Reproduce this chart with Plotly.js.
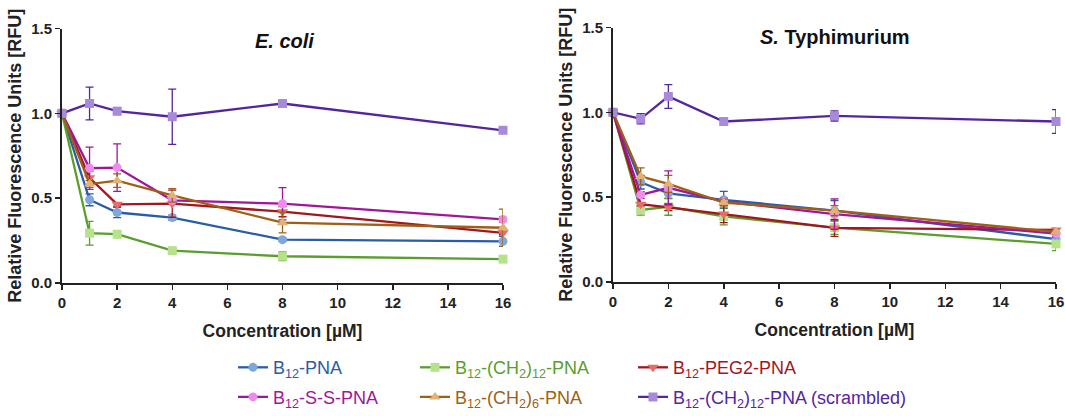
<!DOCTYPE html>
<html>
<head>
<meta charset="utf-8">
<script src="https://cdn.plot.ly/plotly-3.0.1.min.js"></script>
<style>html,body{margin:0;padding:0;background:#fff;}#chart{width:1065px;height:416px;}</style>
</head>
<body>
<div id="chart"></div>
<script>
// ---- Data ----
const concentration = [0, 1, 2, 4, 8, 16];

const seriesNames = [
  'B<sub>12</sub>-PNA',
  'B<sub>12</sub>-(CH<sub>2</sub>)<sub>12</sub>-PNA',
  'B<sub>12</sub>-PEG2-PNA',
  'B<sub>12</sub>-S-S-PNA',
  'B<sub>12</sub>-(CH<sub>2</sub>)<sub>6</sub>-PNA',
  'B<sub>12</sub>-(CH<sub>2</sub>)<sub>12</sub>-PNA (scrambled)'
];

// E. coli
const ecoliPNA        = [1.0, 0.490, 0.415, 0.385, 0.255, 0.245];
const ecoliPNAErr     = [0, 0.035, 0.030, 0.015, 0.010, 0.030];
const ecoliCH12       = [1.0, 0.293, 0.287, 0.190, 0.157, 0.140];
const ecoliCH12Err    = [0, 0.070, 0.020, 0.010, 0.025, 0.015];
const ecoliPEG2       = [1.0, 0.620, 0.463, 0.467, 0.420, 0.295];
const ecoliPEG2Err    = [0, 0.040, 0.010, 0.080, 0.030, 0.010];
const ecoliSS         = [1.0, 0.676, 0.680, 0.487, 0.467, 0.374];
const ecoliSSErr      = [0, 0.125, 0.140, 0.010, 0.095, 0.015];
const ecoliCH6        = [1.0, 0.583, 0.603, 0.516, 0.355, 0.325];
const ecoliCH6Err     = [0, 0.020, 0.040, 0.040, 0.060, 0.110];
const ecoliScr        = [1.0, 1.058, 1.013, 0.980, 1.058, 0.900];
const ecoliScrErr     = [0, 0.097, 0.020, 0.163, 0.020, 0.005];

// S. Typhimurium
const styPNA          = [1.0, 0.588, 0.522, 0.484, 0.420, 0.252];
const styPNAErr       = [0, 0.040, 0.030, 0.050, 0.060, 0.020];
const styCH12         = [1.0, 0.424, 0.443, 0.386, 0.320, 0.224];
const styCH12Err      = [0, 0.030, 0.050, 0.050, 0.040, 0.040];
const styPEG2         = [1.0, 0.458, 0.440, 0.400, 0.318, 0.306];
const styPEG2Err      = [0, 0.010, 0.020, 0.050, 0.050, 0.010];
const stySS           = [1.0, 0.513, 0.555, 0.474, 0.400, 0.285];
const stySSErr        = [0, 0.020, 0.100, 0.020, 0.090, 0.020];
const styCH6          = [1.0, 0.622, 0.578, 0.468, 0.420, 0.295];
const styCH6Err       = [0, 0.050, 0.050, 0.020, 0.030, 0.010];
const styScr          = [1.0, 0.962, 1.094, 0.946, 0.979, 0.946];
const styScrErr       = [0, 0.030, 0.070, 0.010, 0.030, 0.070];

const xTickVals = [0, 2, 4, 6, 8, 10, 12, 14, 16];
const yTickVals = [0.0, 0.5, 1.0, 1.5];
const yTickText = ['0.0', '0.5', '1.0', '1.5'];

// ---- Styles ----
const FONT = 'Liberation Sans, Arial, sans-serif';
const lineColors   = ['#2a5ca8', '#5a9e2c', '#a3161f', '#a0169a', '#a05f16', '#5326a0'];
const markerColors = ['#7ea7de', '#b7e28c', '#e86b6b', '#ee8ceb', '#e0b274', '#a78ad9'];
const symbols      = ['circle', 'square', 'triangle-down', 'circle', 'triangle-up', 'square'];

const ecoliY   = [ecoliPNA, ecoliCH12, ecoliPEG2, ecoliSS, ecoliCH6, ecoliScr];
const ecoliE   = [ecoliPNAErr, ecoliCH12Err, ecoliPEG2Err, ecoliSSErr, ecoliCH6Err, ecoliScrErr];
const styY     = [styPNA, styCH12, styPEG2, stySS, styCH6, styScr];
const styE     = [styPNAErr, styCH12Err, styPEG2Err, stySSErr, styCH6Err, styScrErr];

const legendIds = ['legend', 'legend2', 'legend3', 'legend4', 'legend5', 'legend6'];

const traces = [];
function addTraces(ys, es, xa, ya, show) {
  for (let i = 0; i < 6; i++) {
    traces.push({
      type: 'scatter', mode: 'lines+markers',
      x: concentration, y: ys[i],
      xaxis: xa, yaxis: ya,
      name: '<span style="color:' + lineColors[i] + '">' + seriesNames[i] + '</span>',
      legend: legendIds[i],
      showlegend: show,
      cliponaxis: false,
      line: {color: lineColors[i], width: 2.3},
      marker: {color: markerColors[i], symbol: symbols[i], size: symbols[i].indexOf('triangle') === 0 ? 10 : 9, line: {width: 0}},
      error_y: {type: 'data', array: es[i], visible: true, color: lineColors[i], thickness: 1.3, width: 4}
    });
  }
}
addTraces(ecoliY, ecoliE, 'x', 'y', true);
addTraces(styY, styE, 'x2', 'y2', false);

const tickFont = {family: FONT, size: 15, color: '#222'};
function xAxis(domain, anchor) {
  return {
    domain: domain, anchor: anchor, range: [0, 16],
    tickvals: xTickVals, ticktext: xTickVals.map(v => '<b>' + v + '</b>'),
    ticks: 'outside', ticklen: 5, tickwidth: 1.5, tickcolor: '#222',
    showline: true, linecolor: '#222', linewidth: 2,
    showgrid: false, zeroline: false,
    tickfont: tickFont,
    title: {text: '<b>Concentration [µM]</b>', font: {family: FONT, size: 17.5, color: '#222'}, standoff: 15}
  };
}
function yAxis(domain, anchor) {
  return {
    domain: domain, anchor: anchor, range: [0, 1.5],
    tickvals: yTickVals, ticktext: yTickText.map(t => '<b>' + t + '</b>'),
    ticks: 'outside', ticklen: 5, tickwidth: 1.5, tickcolor: '#222',
    showline: true, linecolor: '#222', linewidth: 2,
    showgrid: false, zeroline: false,
    tickfont: tickFont,
    title: {text: '<b>Relative Fluorescence Units [RFU]</b>', font: {family: FONT, size: 18, color: '#222'}, standoff: 5}
  };
}

const W = 1065, H = 416;
const layout = {
  width: W, height: H,
  margin: {l: 0, r: 0, t: 0, b: 0},
  paper_bgcolor: '#fff', plot_bgcolor: '#fff',
  xaxis: xAxis([62 / W, 503 / W], 'y'),
  yaxis: yAxis([1 - 287 / H, 1 - 29 / H], 'x'),
  xaxis2: xAxis([613 / W, 1056 / W], 'y2'),
  yaxis2: yAxis([1 - 286 / H, 1 - 28 / H], 'x2'),
  annotations: [
    {xref: 'paper', yref: 'paper', x: 284 / W, y: 1 - 42 / H, xanchor: 'center', yanchor: 'middle', showarrow: false,
     text: '<b><i>E. coli</i></b>', font: {family: FONT, size: 20, color: '#111'}},
    {xref: 'paper', yref: 'paper', x: 835 / W, y: 1 - 38 / H, xanchor: 'center', yanchor: 'middle', showarrow: false,
     text: '<b><i>S.</i> Typhimurium</b>', font: {family: FONT, size: 20, color: '#111'}}
  ],
  showlegend: true
};

const legendPos = [[233, 373], [415, 373], [633, 373], [233, 403], [415, 403], [633, 403]];
legendIds.forEach((id, i) => {
  layout[id] = {
    x: legendPos[i][0] / W, y: 1 - legendPos[i][1] / H,
    xanchor: 'left', yanchor: 'middle',
    bgcolor: 'rgba(0,0,0,0)', borderwidth: 0,
    itemwidth: 30,
    font: {family: FONT, size: 18, color: lineColors[i]}
  };
});

Plotly.newPlot('chart', traces, layout, {displayModeBar: false, staticPlot: true});
</script>
</body>
</html>
